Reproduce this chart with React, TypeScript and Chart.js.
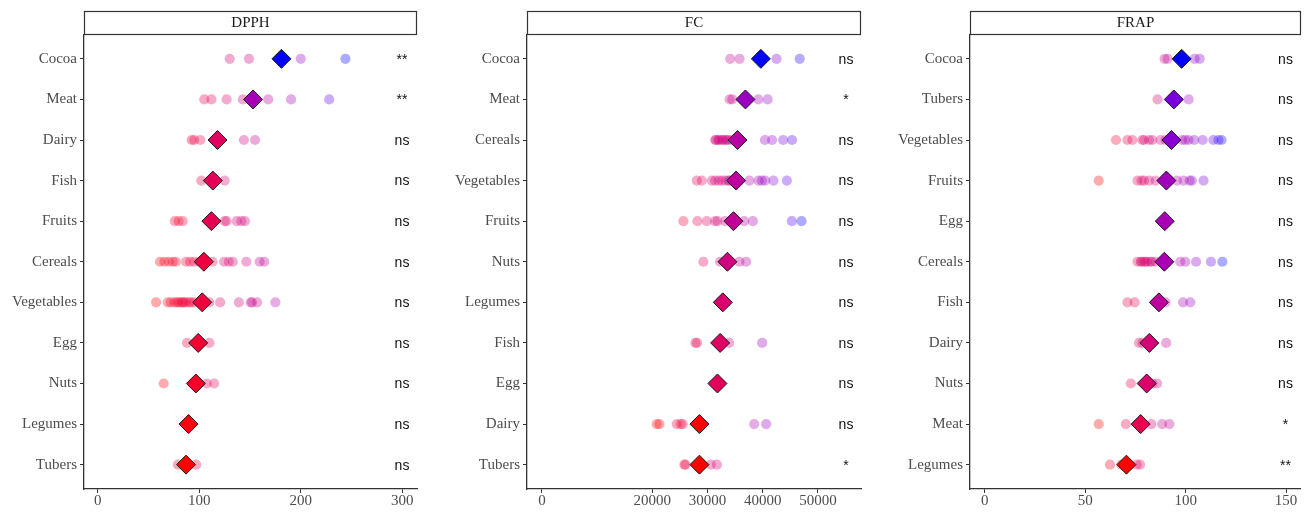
import React, { useEffect, useRef } from "react";
import { Chart, registerables } from "chart.js";
Chart.register(...registerables);

// ---------------- DATA ----------------
const dpphCategories = ["Cocoa", "Meat", "Dairy", "Fish", "Fruits", "Cereals", "Vegetables", "Egg", "Nuts", "Legumes", "Tubers"];
const dpphValues = [
  [130, 149, 200, 244],
  [105, 112, 127, 143, 168, 190.5, 228],
  [92.5, 95, 101, 144, 155],
  [102, 113, 125],
  [76, 79.7, 83.7, 110, 125, 127, 137, 141.5, 145],
  [61.4, 65.7, 70, 74, 77, 87, 91, 95, 100, 105, 113, 124.5, 129, 133, 146.4, 159.5, 164],
  [57.5, 69, 72, 75.5, 78, 79.7, 82, 83.7, 85, 87, 90, 92, 95, 100, 110, 120.6, 139, 150.7, 152, 157, 175],
  [88, 99, 110],
  [65, 107.5, 114.7],
  [87, 92],
  [79, 85, 97],
];
const dpphMeans = [181, 153, 118, 113.4, 112, 104.6, 103, 99, 96.7, 89.5, 87];
const dpphSig = ["**", "**", "ns", "ns", "ns", "ns", "ns", "ns", "ns", "ns", "ns"];
const dpphTicks = [0, 100, 200, 300];

const fcCategories = ["Cocoa", "Meat", "Cereals", "Vegetables", "Fruits", "Nuts", "Legumes", "Fish", "Egg", "Dairy", "Tubers"];
const fcValues = [
  [34100, 35800, 42500, 46700],
  [34000, 34500, 36500, 39200, 40900],
  [31400, 31500, 32000, 32000, 32600, 32800, 33200, 33500, 33800, 34400, 40400, 41700, 43700, 45300],
  [28050, 28960, 30770, 31375, 32000, 32590, 33190, 33790, 34000, 34400, 37590, 39230, 39840, 40440, 41950, 44370],
  [25630, 28170, 29870, 31375, 31800, 33190, 36630, 38210, 45280, 47030],
  [29250, 32280, 35780, 37000],
  [32300, 33200],
  [27800, 28100, 32000, 33900, 39900],
  [31500, 32100],
  [20800, 21280, 24430, 25150, 25520, 38450, 40620],
  [25800, 26000, 30600, 31700],
];
const fcMeans = [39660, 36870, 35420, 35180, 34700, 33610, 32770, 32280, 31800, 28530, 28530];
const fcSig = ["ns", "*", "ns", "ns", "ns", "ns", "ns", "ns", "ns", "ns", "*"];
const fcTicks = [0, 20000, 30000, 40000, 50000];

const frapCategories = ["Cocoa", "Tubers", "Vegetables", "Fruits", "Egg", "Cereals", "Fish", "Dairy", "Nuts", "Meat", "Legumes"];
const frapValues = [
  [89.5, 91, 104.5, 107],
  [86, 94, 101.5],
  [65.3, 71, 73.5, 78.4, 79.3, 81.8, 83.4, 87.5, 90, 98.2, 99.8, 101.5, 104.3, 108.5, 113.8, 116.3, 117.9],
  [56.7, 76, 78, 79.3, 81.8, 85, 90, 92, 95.7, 99, 102, 103.1, 108.9],
  [89, 90.2],
  [76, 77.6, 78, 79.3, 80, 80.9, 82.5, 83, 85, 97.3, 99.8, 105.2, 112.6, 118.3],
  [71, 74.6, 85, 90, 98.7, 102.3],
  [76.8, 78.5, 90.3],
  [72.7, 80, 83.5, 85.8],
  [56.7, 70.2, 82.9, 88.3, 91.9],
  [62.3, 68, 75.6, 77.3],
];
const frapMeans = [98, 94.1, 92.9, 90.4, 89.6, 89.4, 86.7, 81.9, 80.6, 77.6, 70.5];
const frapSig = ["ns", "ns", "ns", "ns", "ns", "ns", "ns", "ns", "ns", "*", "**"];
const frapTicks = [0, 50, 100, 150];

// ---------------- COLOUR (Lab gradient red -> blue) ----------------
function toLin(c: number) {
  c /= 255;
  return c <= 0.04045 ? c / 12.92 : Math.pow((c + 0.055) / 1.055, 2.4);
}
function fromLin(c: number) {
  const v = c <= 0.0031308 ? 12.92 * c : 1.055 * Math.pow(Math.max(c, 0), 1 / 2.4) - 0.055;
  return Math.round(Math.max(0, Math.min(1, v)) * 255);
}
function rgbToLab(rgb: number[]) {
  const R = toLin(rgb[0]), G = toLin(rgb[1]), B = toLin(rgb[2]);
  const X = (0.4124564 * R + 0.3575761 * G + 0.1804375 * B) / 0.95047;
  const Y = 0.2126729 * R + 0.7151522 * G + 0.072175 * B;
  const Z = (0.0193339 * R + 0.119192 * G + 0.9503041 * B) / 1.08883;
  const f = (t: number) => (t > 216 / 24389 ? Math.cbrt(t) : ((24389 / 27) * t + 16) / 116);
  const fx = f(X), fy = f(Y), fz = f(Z);
  return [116 * fy - 16, 500 * (fx - fy), 200 * (fy - fz)];
}
function labToRgb(lab: number[]) {
  const fy = (lab[0] + 16) / 116;
  const fx = fy + lab[1] / 500;
  const fz = fy - lab[2] / 200;
  const finv = (t: number) => (t * t * t > 216 / 24389 ? t * t * t : (116 * t - 16) / (24389 / 27));
  const X = finv(fx) * 0.95047, Y = finv(fy), Z = finv(fz) * 1.08883;
  const R = 3.2404542 * X - 1.5371385 * Y - 0.4985314 * Z;
  const G = -0.969266 * X + 1.8760108 * Y + 0.041556 * Z;
  const B = 0.0556434 * X - 0.2040259 * Y + 1.0572252 * Z;
  return [fromLin(R), fromLin(G), fromLin(B)];
}
const LOW = rgbToLab([255, 0, 0]);
const HIGH = rgbToLab([0, 0, 255]);
function gradient(v: number, lo: number, hi: number, alpha: number) {
  const t = hi === lo ? 0 : Math.max(0, Math.min(1, (v - lo) / (hi - lo)));
  const lab = [0, 1, 2].map((i) => LOW[i] + (HIGH[i] - LOW[i]) * t);
  const c = labToRgb(lab);
  return `rgba(${c[0]},${c[1]},${c[2]},${alpha})`;
}

// ---------------- PANELS ----------------
type Panel = {
  title: string;
  categories: string[];
  values: number[][];
  means: number[];
  sig: string[];
  ticks: number[];
  min: number;
  max: number;
  left: number;
  width: number;
  axisLeft: number;
  plotRight: number;
};

const panels: Panel[] = [
  { title: "DPPH", categories: dpphCategories, values: dpphValues, means: dpphMeans, sig: dpphSig, ticks: dpphTicks, min: -13.5, max: 314.5, left: 0, width: 440, axisLeft: 84, plotRight: 417 },
  { title: "FC", categories: fcCategories, values: fcValues, means: fcMeans, sig: fcSig, ticks: fcTicks, min: -2700, max: 57800, left: 440, width: 440, axisLeft: 527, plotRight: 861 },
  { title: "FRAP", categories: frapCategories, values: frapValues, means: frapMeans, sig: frapSig, ticks: frapTicks, min: -7.4, max: 157.2, left: 880, width: 431, axisLeft: 970, plotRight: 1304 },
];

const AXIS = "#333333";
const SERIF = "'Liberation Serif', 'DejaVu Serif', serif";
const SANS = "'Liberation Sans', Arial, sans-serif";

function makeChart(canvas: HTMLCanvasElement, p: Panel) {
  const pts: { x: number; y: number }[] = [];
  p.values.forEach((arr, i) => arr.forEach((v) => pts.push({ x: v, y: i })));
  const allVals = pts.map((d) => d.x);
  const vLo = Math.min(...allVals), vHi = Math.max(...allVals);
  const mLo = Math.min(...p.means), mHi = Math.max(...p.means);
  const meanPts = p.means.map((m, i) => ({ x: m, y: i }));

  const stripPlugin = {
    id: "strip" + p.title,
    afterDraw(chart: any) {
      const { ctx, chartArea, scales } = chart;
      ctx.save();
      const l = Math.round(chartArea.left) + 0.5;
      const r = Math.round(chartArea.right) - 0.5;
      ctx.fillStyle = "#ffffff";
      ctx.fillRect(l, 11.5, r - l, 23);
      ctx.strokeStyle = AXIS;
      ctx.lineWidth = 1.2;
      ctx.strokeRect(l, 11.5, r - l, 23);
      ctx.fillStyle = "#1a1a1a";
      ctx.font = `15px ${SERIF}`;
      ctx.textAlign = "center";
      ctx.textBaseline = "middle";
      ctx.fillText(p.title, (l + r) / 2, 23.5);
      ctx.font = `14px ${SANS}`;
      ctx.fillStyle = "#111111";
      p.sig.forEach((s, i) => {
        const y = scales.y.getPixelForValue(i);
        ctx.fillText(s, chartArea.right - 15, y + 1);
      });
      ctx.restore();
    },
  };

  const gridCfg = { drawOnChartArea: false, drawTicks: true, tickLength: 4, color: AXIS, lineWidth: 1 };
  const borderCfg = { display: true, color: AXIS, width: 1.3 };

  return new Chart(canvas, {
    type: "scatter",
    data: {
      datasets: [
        {
          data: meanPts,
          order: 0,
          pointStyle: "rectRot",
          pointRadius: 9.5,
          pointBorderWidth: 1,
          pointBorderColor: "#1a1a1a",
          pointBackgroundColor: (ctx: any) => gradient(ctx.raw ? ctx.raw.x : 0, mLo, mHi, 1),
        } as any,
        {
          data: pts,
          order: 1,
          pointStyle: "circle",
          pointRadius: 5.1,
          pointBorderWidth: 0,
          pointBackgroundColor: (ctx: any) => gradient(ctx.raw ? ctx.raw.x : 0, vLo, vHi, 0.33),
        } as any,
      ],
    },
    options: {
      animation: false,
      responsive: false,
      maintainAspectRatio: false,
      events: [],
      layout: { padding: { top: 34.5, right: p.left + p.width - p.plotRight, left: 0, bottom: 0 } },
      plugins: { legend: { display: false }, tooltip: { enabled: false } },
      scales: {
        x: {
          type: "linear",
          min: p.min,
          max: p.max,
          afterBuildTicks: (s: any) => {
            s.ticks = p.ticks.map((v) => ({ value: v }));
          },
          afterFit: (s: any) => {
            s.height = 23;
          },
          grid: gridCfg,
          border: borderCfg,
          ticks: {
            autoSkip: false,
            maxRotation: 0,
            padding: 0,
            color: "#4d4d4d",
            font: { family: SERIF, size: 15, lineHeight: 1.1 },
            callback: (v: any) => String(v),
          },
        },
        y: {
          type: "linear",
          reverse: true,
          min: -0.6,
          max: 10.6,
          afterBuildTicks: (s: any) => {
            s.ticks = p.categories.map((_, i) => ({ value: i }));
          },
          afterFit: (s: any) => {
            s.width = p.axisLeft - p.left;
          },
          grid: gridCfg,
          border: borderCfg,
          ticks: {
            autoSkip: false,
            padding: 3,
            color: "#4d4d4d",
            font: { family: SERIF, size: 15 },
            callback: (v: any) => p.categories[Math.round(v)] ?? "",
          },
        },
      },
    } as any,
    plugins: [stripPlugin],
  });
}

export default function App() {
  const refs = [useRef<HTMLCanvasElement>(null), useRef<HTMLCanvasElement>(null), useRef<HTMLCanvasElement>(null)];
  useEffect(() => {
    const charts = panels.map((p, i) => makeChart(refs[i].current as HTMLCanvasElement, p));
    return () => charts.forEach((c) => c.destroy());
  }, []);
  return (
    <div style={{ position: "absolute", left: 0, top: 0, width: 1311, height: 512, background: "#fff", overflow: "hidden" }}>
      {panels.map((p, i) => (
        <canvas
          key={p.title}
          ref={refs[i]}
          width={p.width}
          height={512}
          style={{ position: "absolute", left: p.left, top: 0, width: p.width, height: 512 }}
        />
      ))}
    </div>
  );
}
